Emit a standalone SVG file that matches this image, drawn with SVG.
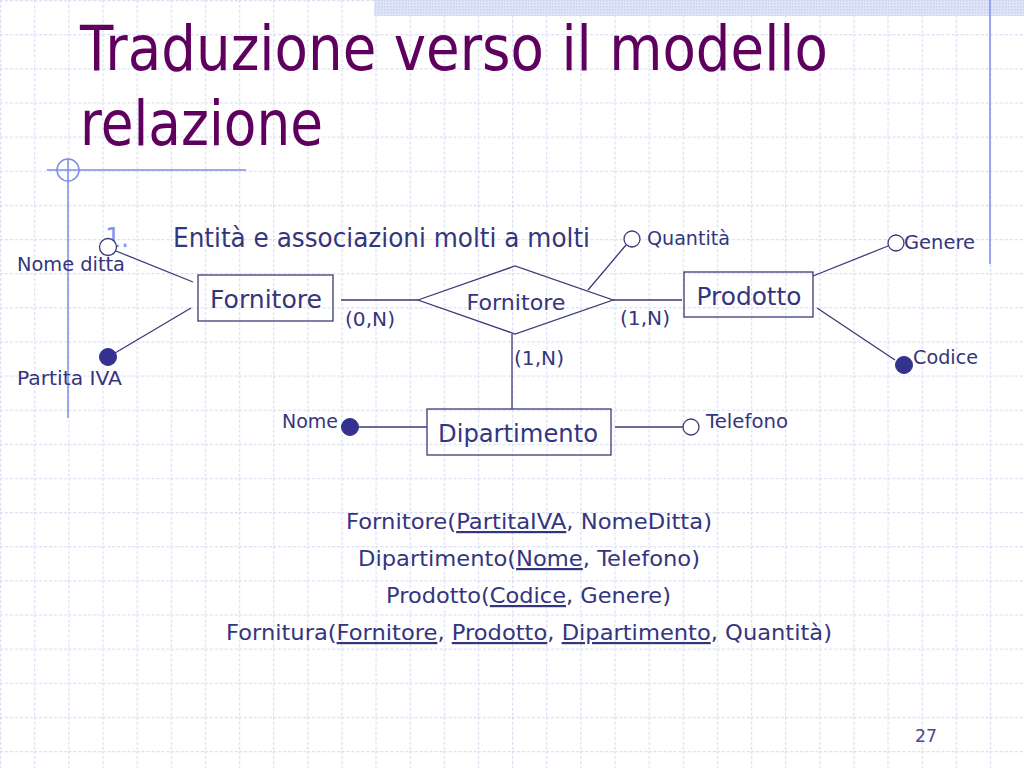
<svg xmlns="http://www.w3.org/2000/svg" width="1024" height="768" viewBox="0 0 1024 768">
  <defs>
    <pattern id="grid" x="0" y="0" width="34.1333" height="34.1333" patternUnits="userSpaceOnUse">
      <line x1="0.6" y1="0" x2="0.6" y2="34.1333" stroke="#dadef2" stroke-width="1.3" stroke-dasharray="3 2"/>
      <line x1="0" y1="0.6" x2="34.1333" y2="0.6" stroke="#dadef2" stroke-width="1.3" stroke-dasharray="3 2"/>
    </pattern>
    <pattern id="dots" x="0" y="0" width="3" height="3" patternUnits="userSpaceOnUse">
      <rect width="3" height="3" fill="#dfe5f7"/>
      <rect width="1.5" height="1.5" fill="#c9d3f1"/>
    </pattern>
    <style>
      .t { font-family: "DejaVu Sans", "Liberation Sans", sans-serif; fill: #35357d; }
      .ln { stroke: #3a3a78; stroke-width: 1.3; fill: none; }
      .box { stroke: #3a3a78; stroke-width: 1.3; fill: none; }
      .open { stroke: #3a3a78; stroke-width: 1.3; fill: #ffffff; }
      .key { fill: #33338f; stroke: #33338f; stroke-width: 1; }
      .deco { stroke: #7d8ce6; stroke-width: 1.5; fill: none; }
    </style>
  </defs>

  <!-- background -->
  <rect width="1024" height="768" fill="#ffffff"/>
  <rect width="1024" height="768" fill="url(#grid)"/>
  <rect x="374" y="0" width="650" height="16" fill="url(#dots)"/>

  <!-- decorations -->
  <g id="decorations">
    <line class="deco" x1="47" y1="170" x2="246" y2="170"/>
    <circle class="deco" cx="68" cy="170" r="11"/>
    <line class="deco" x1="68" y1="159" x2="68" y2="418"/>
    <line class="deco" x1="990" y1="0" x2="990" y2="264"/>
  </g>

  <!-- title -->
  <g id="title">
    <text class="t" x="80" y="70" font-size="63" style="fill:#5f005f" textLength="748" lengthAdjust="spacingAndGlyphs">Traduzione verso il modello</text>
    <text class="t" x="80" y="145" font-size="63" style="fill:#5f005f" textLength="243" lengthAdjust="spacingAndGlyphs">relazione</text>
  </g>

  <g id="subtitle">
    <text class="t" x="105" y="247" font-size="26" style="fill:#8494ee" textLength="24" lengthAdjust="spacingAndGlyphs">1.</text>
    <text class="t" x="173" y="247" font-size="26" textLength="417" lengthAdjust="spacingAndGlyphs">Entità e associazioni molti a molti</text>
  </g>

  <!-- connectors -->
  <g id="connectors">
    <line class="ln" x1="341" y1="300" x2="418" y2="300"/>
    <line class="ln" x1="613" y1="300" x2="682" y2="300"/>
    <line class="ln" x1="512" y1="334" x2="512" y2="409"/>
    <line class="ln" x1="588" y1="290" x2="626" y2="245"/>
    <line class="ln" x1="813" y1="276" x2="888" y2="246"/>
    <line class="ln" x1="817" y1="308" x2="895" y2="360"/>
    <line class="ln" x1="359" y1="427" x2="427" y2="427"/>
    <line class="ln" x1="615" y1="427" x2="683" y2="427"/>
    <line class="ln" x1="116" y1="251" x2="193" y2="282"/>
    <line class="ln" x1="115" y1="353" x2="191" y2="308"/>
  </g>

  <!-- entities and relationship -->
  <g id="fornitore-entity">
    <rect class="box" x="198" y="275" width="135" height="46"/>
    <text class="t" x="266" y="308" font-size="24" text-anchor="middle" textLength="112" lengthAdjust="spacingAndGlyphs">Fornitore</text>
  </g>
  <g id="fornitore-relationship">
    <polygon class="box" points="418,300 515,266 613,300 515,334"/>
    <text class="t" x="516" y="310" font-size="21" text-anchor="middle" textLength="99" lengthAdjust="spacingAndGlyphs">Fornitore</text>
  </g>
  <g id="prodotto">
    <rect class="box" x="684" y="272" width="129" height="45"/>
    <text class="t" x="749" y="305" font-size="24" text-anchor="middle" textLength="105" lengthAdjust="spacingAndGlyphs">Prodotto</text>
  </g>
  <g id="dipartimento">
    <rect class="box" x="427" y="409" width="184" height="46"/>
    <text class="t" x="518" y="442" font-size="24" text-anchor="middle" textLength="160" lengthAdjust="spacingAndGlyphs">Dipartimento</text>
  </g>

  <!-- cardinalities -->
  <g id="cardinalities">
    <text class="t" x="345" y="326" font-size="19" textLength="50" lengthAdjust="spacingAndGlyphs">(0,N)</text>
    <text class="t" x="620" y="325" font-size="19" textLength="50" lengthAdjust="spacingAndGlyphs">(1,N)</text>
    <text class="t" x="514" y="365" font-size="19" textLength="50" lengthAdjust="spacingAndGlyphs">(1,N)</text>
  </g>

  <!-- attributes -->
  <g id="attr-nome-ditta">
    <circle class="open" cx="108" cy="247" r="8.5"/>
    <text class="t" x="17" y="271" font-size="19" textLength="108" lengthAdjust="spacingAndGlyphs">Nome ditta</text>
  </g>
  <g id="attr-partita-iva">
    <circle class="key" cx="108" cy="357" r="8.5"/>
    <text class="t" x="17" y="385" font-size="19" textLength="105" lengthAdjust="spacingAndGlyphs">Partita IVA</text>
  </g>
  <g id="attr-quantita">
    <circle class="open" cx="632" cy="239" r="8"/>
    <text class="t" x="647" y="245" font-size="19" textLength="83" lengthAdjust="spacingAndGlyphs">Quantità</text>
  </g>
  <g id="attr-genere">
    <circle class="open" cx="896" cy="243" r="8"/>
    <text class="t" x="904" y="249" font-size="19" textLength="71" lengthAdjust="spacingAndGlyphs">Genere</text>
  </g>
  <g id="attr-codice">
    <circle class="key" cx="904" cy="365" r="8.5"/>
    <text class="t" x="913" y="364" font-size="19" textLength="65" lengthAdjust="spacingAndGlyphs">Codice</text>
  </g>
  <g id="attr-nome">
    <circle class="key" cx="350" cy="427" r="8.5"/>
    <text class="t" x="282" y="428" font-size="19" textLength="56" lengthAdjust="spacingAndGlyphs">Nome</text>
  </g>
  <g id="attr-telefono">
    <circle class="open" cx="691" cy="427" r="8"/>
    <text class="t" x="706" y="428" font-size="19" textLength="82" lengthAdjust="spacingAndGlyphs">Telefono</text>
  </g>

  <!-- relational schema -->
  <g id="schema" font-size="22">
    <text class="t" x="346" y="529" textLength="366" lengthAdjust="spacingAndGlyphs">Fornitore(<tspan text-decoration="underline">PartitaIVA</tspan>, NomeDitta)</text>
    <text class="t" x="358" y="566" textLength="342" lengthAdjust="spacingAndGlyphs">Dipartimento(<tspan text-decoration="underline">Nome</tspan>, Telefono)</text>
    <text class="t" x="386" y="603" textLength="285" lengthAdjust="spacingAndGlyphs">Prodotto(<tspan text-decoration="underline">Codice</tspan>, Genere)</text>
    <text class="t" x="226" y="640" textLength="606" lengthAdjust="spacingAndGlyphs">Fornitura(<tspan text-decoration="underline">Fornitore</tspan>, <tspan text-decoration="underline">Prodotto</tspan>, <tspan text-decoration="underline">Dipartimento</tspan>, Quantità)</text>
  </g>

  <g id="page-number">
    <text class="t" x="915" y="742" font-size="18" style="fill:#4a4a88" textLength="22" lengthAdjust="spacingAndGlyphs">27</text>
  </g>
</svg>
